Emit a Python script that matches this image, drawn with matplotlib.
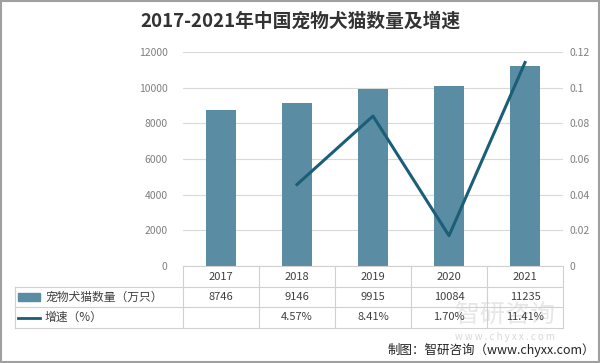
import matplotlib.pyplot as plt
from matplotlib.patches import Rectangle
from matplotlib.lines import Line2D
import matplotlib.transforms as mtransforms

plt.rcParams['font.family'] = ['Noto Sans CJK SC', 'DejaVu Sans']

# data
years = ["2017", "2018", "2019", "2020", "2021"]
pets = [8746, 9146, 9915, 10084, 11235]
growth = [None, 0.0457, 0.0841, 0.0170, 0.1141]
growth_labels = ["", "4.57%", "8.41%", "1.70%", "11.41%"]
left_ticks = [0, 2000, 4000, 6000, 8000, 10000, 12000]
right_ticks = [0, 0.02, 0.04, 0.06, 0.08, 0.1, 0.12]

bar_color = "#5A8DA3"
line_color = "#1B5E78"
grid_color = "#D9D9D9"
text_grey = "#7F7F7F"

fig = plt.figure(figsize=(6.0, 3.63), dpi=100)
ax = fig.add_axes([183 / 600, 1 - 266 / 363, 380 / 600, 214 / 363])
ax2 = ax.twinx()

x = list(range(len(years)))
ax.bar(x, pets, width=0.4, color=bar_color, zorder=2)
ax.set_xlim(-0.5, len(years) - 0.5)
ax.set_ylim(0, 12000)
ax.set_yticks(left_ticks)
ax.set_yticklabels([str(t) for t in left_ticks])
ax.grid(axis='y', color=grid_color, linewidth=0.8, zorder=0)
ax.set_xticks([])

gx = [i for i, g in zip(x, growth) if g is not None]
gy = [g for g in growth if g is not None]
ax2.plot(gx, gy, color=line_color, linewidth=2.2, zorder=3)
ax2.set_ylim(0, 0.12)
ax2.set_yticks(right_ticks)
ax2.set_yticklabels(["0" if t == 0 else ("%g" % t) for t in right_ticks])

for a in (ax, ax2):
    for s in a.spines.values():
        s.set_visible(False)
    a.tick_params(axis='y', length=0, labelsize=7.5, labelcolor=text_grey)
ax.tick_params(axis='y', pad=11)
ax2.tick_params(axis='y', pad=5)

# data table under the plot
trans = mtransforms.blended_transform_factory(ax.transData, fig.transFigure)
row_y = [1 - 266 / 363, 1 - 287 / 363, 1 - 307 / 363, 1 - 328 / 363]
line_kw = dict(color="#D0D0D0", linewidth=0.8)
left_edge = 15 / 600
for ry in row_y[1:]:
    fig.add_artist(Line2D([left_edge, 563 / 600], [ry, ry], transform=fig.transFigure, **line_kw))
fig.add_artist(Line2D([183 / 600, 563 / 600], [row_y[0], row_y[0]], transform=fig.transFigure, **line_kw))
fig.add_artist(Line2D([left_edge, left_edge], [row_y[1], row_y[3]], transform=fig.transFigure, **line_kw))
for i in range(len(years) + 1):
    fig.add_artist(Line2D([i - 0.5, i - 0.5], [row_y[0], row_y[3]], transform=trans, **line_kw))

mid = [(row_y[k] + row_y[k + 1]) / 2 for k in range(3)]
for i, yr in enumerate(years):
    fig.text(i, mid[0], yr, transform=trans, ha='center', va='center', fontsize=8, color="#404040")
    fig.text(i, mid[1], str(pets[i]), transform=trans, ha='center', va='center', fontsize=8, color="#404040")
    fig.text(i, mid[2], growth_labels[i], transform=trans, ha='center', va='center', fontsize=8, color="#404040")

fig.add_artist(Rectangle((18 / 600, mid[1] - 0.011), 22 / 600, 0.022, transform=fig.transFigure,
                         color=bar_color))
fig.text(45 / 600, mid[1], "宠物犬猫数量（万只）", ha='left', va='center', fontsize=8.5, color="#404040")
fig.add_artist(Line2D([18 / 600, 40 / 600], [mid[2], mid[2]], transform=fig.transFigure,
                      color=line_color, linewidth=2))
fig.text(45 / 600, mid[2], "增速（%）", ha='left', va='center', fontsize=8.5, color="#404040")

# title, watermark, source
fig.text(0.5, 1 - 21 / 363, "2017-2021年中国宠物犬猫数量及增速", ha='center', va='center',
         fontsize=13.5, fontweight='bold', color="#333333")
fig.text(505 / 600, 1 - 315 / 363, "智研咨询", ha='center', va='center', fontsize=18,
         color="#D0D0D0", alpha=0.5, zorder=0)
fig.text(505 / 600, 1 - 337 / 363, "w w w . c h y x x . c o m", ha='center', va='center',
         fontsize=7, color="#C8C8C8", alpha=0.7, zorder=0)
fig.text(595 / 600, 1 - 350 / 363, "制图：智研咨询（www.chyxx.com）", ha='right', va='center',
         fontsize=9, color="#222222")

# frame
fig.add_artist(Rectangle((0.002, 0.003), 0.996, 0.994, transform=fig.transFigure,
                         fill=False, edgecolor="#A0A0A0", linewidth=1.5))

fig.savefig("out.png", dpi=100, facecolor="white")
